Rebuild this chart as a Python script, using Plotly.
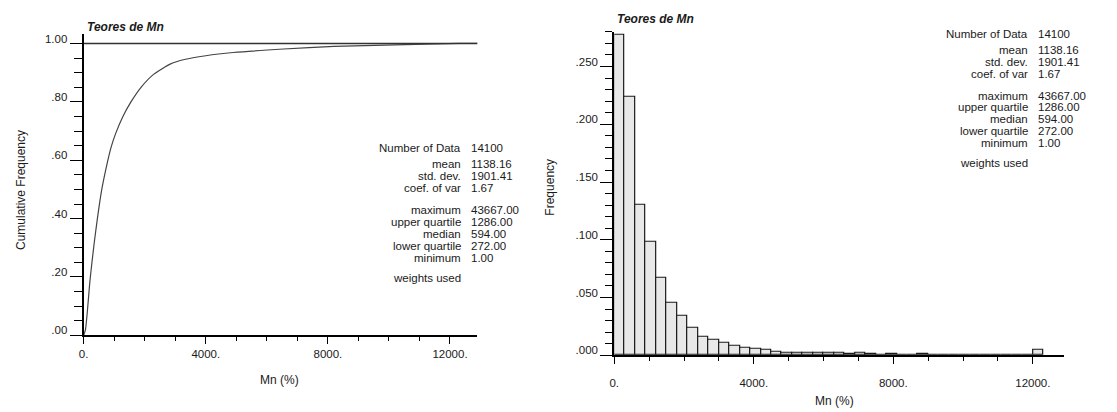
import plotly.graph_objects as go

W, H = 1117, 412

# ---------------- data ----------------
title_text = "Teores de Mn"
x_title = "Mn (%)"

# cumulative frequency curve
cdf_x = [1, 60, 120, 200, 272, 350, 450, 594, 750, 900, 1050, 1286, 1550, 1880,
         2300, 2850, 3300, 4000, 4900, 6550, 8200, 10200, 12300, 12900]
cdf_y = [0.0, 0.02, 0.08, 0.18, 0.25, 0.32, 0.40, 0.50, 0.58, 0.645, 0.692, 0.75,
         0.80, 0.85, 0.895, 0.930, 0.945, 0.958, 0.969, 0.981, 0.990, 0.995, 1.0, 1.0]

# histogram class frequencies (class width 300, starting at 0)
hist_freq = [0.277, 0.224, 0.130, 0.098, 0.067, 0.045, 0.034, 0.024, 0.016, 0.013,
             0.0105, 0.008, 0.0068, 0.0052, 0.0045, 0.0034, 0.0024, 0.0024, 0.0024,
             0.0017, 0.0017, 0.0017, 0.0010, 0.0020, 0.0010, 0.0004, 0.0010, 0.0003,
             0.0002, 0.0010, 0.0001, 0.0001, 0.0, 0.0, 0.0, 0.0, 0.0, 0.0, 0.0, 0.0,
             0.0050]
class_width = 300

stat_labels = ["Number of Data", "mean", "std. dev.", "coef. of var", "maximum",
               "upper quartile", "median", "lower quartile", "minimum", "weights used"]
stat_values = ["14100", "1138.16", "1901.41", "1.67", "43667.00", "1286.00",
               "594.00", "272.00", "1.00", ""]

x_ticks = [0, 4000, 8000, 12000]
x_ticktext = ["0.", "4000.", "8000.", "12000."]
cdf_ticks = [0.0, 0.2, 0.4, 0.6, 0.8, 1.0]
cdf_ticktext = [".00", ".20", ".40", ".60", ".80", "1.00"]
freq_ticks = [0.0, 0.05, 0.10, 0.15, 0.20, 0.25]
freq_ticktext = [".000", ".050", ".100", ".150", ".200", ".250"]

# ---------------- figure ----------------
FONT = "Liberation Sans, Arial, sans-serif"
TXT = "#1a1a1a"
TICK_FS = 11.5

def px(x):
    return x / W

def py(y):
    return (H - y) / H

fig = go.Figure()

fig.add_trace(go.Scatter(x=cdf_x, y=cdf_y, mode="lines",
                         line=dict(color="#444", width=1.2, shape="spline", smoothing=0.6),
                         xaxis="x", yaxis="y", showlegend=False, hoverinfo="skip"))

bin_centers = [class_width * (i + 0.5) for i in range(len(hist_freq))]
fig.add_trace(go.Bar(x=bin_centers, y=hist_freq, width=class_width,
                     marker=dict(color="#e8e8e8", line=dict(color="#1a1a1a", width=1.2)),
                     xaxis="x2", yaxis="y2", showlegend=False, hoverinfo="skip"))

xmax = 12900
def xaxis_cfg(standoff):
    return dict(range=[0, xmax], showgrid=False, zeroline=False, showline=True,
                linecolor="black", linewidth=2, ticks="outside", ticklen=7,
                tickwidth=1, tickcolor="black", tickmode="array", tickvals=x_ticks,
                ticktext=x_ticktext, tickfont=dict(family=FONT, size=TICK_FS, color=TXT),
                ticklabelstandoff=standoff,
                minor=dict(tickmode="linear", tick0=0, dtick=1000, ticks="outside",
                           ticklen=4, tickcolor="black", tickwidth=1, showgrid=False),
                fixedrange=True)

fig.update_layout(
    width=W, height=H, margin=dict(l=0, r=0, t=0, b=0),
    paper_bgcolor="white", plot_bgcolor="white", bargap=0,
    xaxis=dict(domain=[px(79), px(474.6)], anchor="y", **xaxis_cfg(0)),
    yaxis=dict(domain=[1 - 336 / H, 1 - 33 / H], anchor="x", range=[0, 1.033],
               showgrid=False, zeroline=False, showline=True, linecolor="black",
               linewidth=2, ticks="outside", ticklen=12, tickwidth=1, tickcolor="black",
               tickmode="array", tickvals=cdf_ticks, ticktext=cdf_ticktext,
               tickfont=dict(family=FONT, size=TICK_FS, color=TXT), ticklabelshift=-5,
               minor=dict(tickmode="linear", tick0=0, dtick=0.05, ticks="outside",
                          ticklen=8, tickcolor="black", tickwidth=1, showgrid=False)),
    xaxis2=dict(domain=[px(612), px(1064)], anchor="y2", **xaxis_cfg(9)),
    yaxis2=dict(domain=[1 - 356 / H, 1 - 31 / H], anchor="x2", range=[0, 0.28],
                showgrid=False, zeroline=False, showline=True, linecolor="black",
                linewidth=2, ticks="outside", ticklen=12, tickwidth=1, tickcolor="black",
                tickmode="array", tickvals=freq_ticks, ticktext=freq_ticktext,
                tickfont=dict(family=FONT, size=TICK_FS, color=TXT), ticklabelshift=-5,
                minor=dict(tickmode="linear", tick0=0, dtick=0.01, ticks="outside",
                           ticklen=7, tickcolor="black", tickwidth=1, showgrid=False)),
)

# reference line at cumulative frequency 1.00
fig.add_shape(type="line", xref="x", yref="y", x0=0, x1=xmax, y0=1.0, y1=1.0,
              line=dict(color="#333", width=1.5))

ann = []
def text(x, y, s, xa="left", ya="middle", size=11.5, angle=0):
    ann.append(dict(x=px(x), y=py(y), xref="paper", yref="paper", text=s,
                    showarrow=False, xanchor=xa, yanchor=ya, textangle=angle,
                    font=dict(family=FONT, size=size, color=TXT)))

# titles
text(80, 26, "<b><i>" + title_text + "</i></b>", size=12)
text(613, 18, "<b><i>" + title_text + "</i></b>", size=12)

# axis titles
text(276, 381, x_title, xa="center", size=12)
text(833, 402, x_title, xa="center", size=12)
text(16, 190, "Cumulative Frequency", xa="center", angle=-90, size=12)
text(548, 187, "Frequency", xa="center", angle=-90, size=12)

# statistics blocks
offsets = [0, 16, 28, 40, 62, 74, 86, 98, 110, 130]
for (lx, vx, y0) in [(460, 466, 148), (1030, 1036, 33)]:
    for lab, val, off in zip(stat_labels, stat_values, offsets):
        text(lx, y0 + off, lab, xa="right")
        if val:
            text(vx, y0 + off, val, xa="left")

fig.update_layout(annotations=ann)
fig.write_html("out.html")
